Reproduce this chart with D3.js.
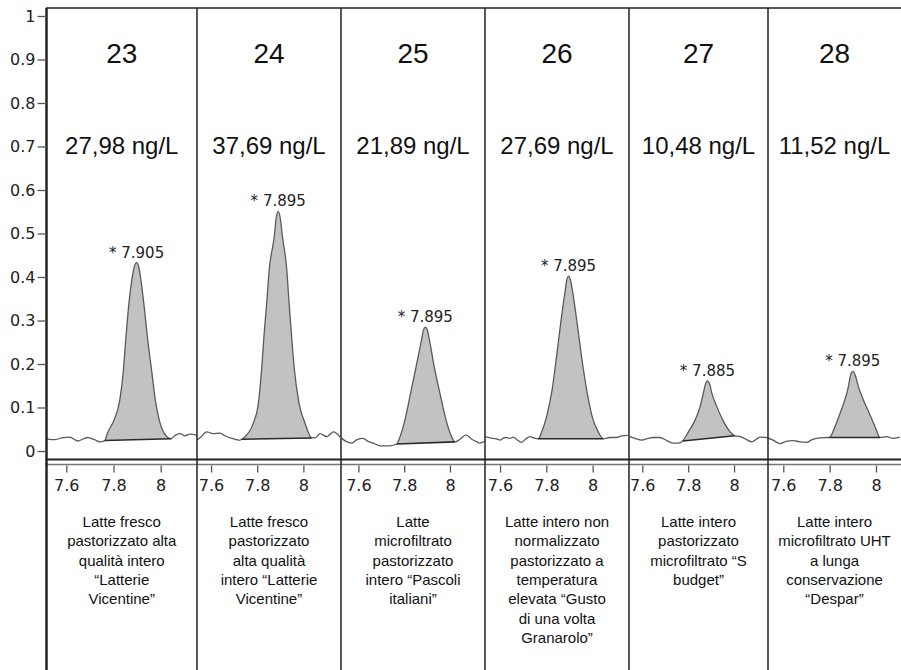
<!DOCTYPE html>
<html>
<head>
<meta charset="utf-8">
<script src="https://cdn.jsdelivr.net/npm/d3@7"></script>
<style>
  html, body { margin: 0; padding: 0; background: #fff; }
  svg { display: block; }
</style>
</head>
<body>
<svg id="chart" width="901" height="670"></svg>
<script>
// ---------------- DATA ----------------
const sampleIds = ["23", "24", "25", "26", "27", "28"];
const concentrations = ["27,98 ng/L", "37,69 ng/L", "21,89 ng/L", "27,69 ng/L", "10,48 ng/L", "11,52 ng/L"];
const peakLabels = ["7.905", "7.895", "7.895", "7.895", "7.885", "7.895"];
const descriptions = [
  ["Latte fresco", "pastorizzato alta", "qualità intero", "“Latterie", "Vicentine”"],
  ["Latte fresco", "pastorizzato", "alta qualità", "intero “Latterie", "Vicentine”"],
  ["Latte", "microfiltrato", "pastorizzato", "intero “Pascoli", "italiani”"],
  ["Latte intero non", "normalizzato", "pastorizzato a", "temperatura", "elevata “Gusto", "di una volta", "Granarolo”"],
  ["Latte intero", "pastorizzato", "microfiltrato “S", "budget”"],
  ["Latte intero", "microfiltrato UHT", "a lunga", "conservazione", "“Despar”"]
];
const yTicks = [0, 0.1, 0.2, 0.3, 0.4, 0.5, 0.6, 0.7, 0.8, 0.9, 1];
const xTicks = [7.6, 7.8, 8];
const xDomainMin = [7.516, 7.539, 7.524, 7.535, 7.542, 7.534];
const xDomainMax = [8.154, 8.163, 8.153, 8.157, 8.148, 8.108];
const peakStart = [7.763, 7.733, 7.767, 7.765, 7.776, 7.799];
const peakEnd   = [8.044, 8.036, 8.022, 8.046, 8.002, 8.017];

// retention time (min) and signal for each chromatogram
const rt23  = [7.516, 7.550, 7.580, 7.614, 7.648, 7.690, 7.720, 7.741, 7.763, 7.774, 7.802, 7.827, 7.841, 7.852, 7.864, 7.878, 7.888, 7.898, 7.907, 7.916, 7.930, 7.945, 7.963, 7.977, 7.994, 8.015, 8.044, 8.061, 8.082, 8.103, 8.125, 8.154];
const sig23 = [0.028, 0.026, 0.030, 0.032, 0.023, 0.031, 0.026, 0.021, 0.024, 0.041, 0.071, 0.118, 0.179, 0.256, 0.332, 0.394, 0.423, 0.433, 0.423, 0.394, 0.332, 0.256, 0.179, 0.118, 0.071, 0.041, 0.028, 0.036, 0.040, 0.035, 0.039, 0.036];

const rt24  = [7.539, 7.556, 7.581, 7.608, 7.639, 7.660, 7.682, 7.704, 7.725, 7.733, 7.747, 7.783, 7.805, 7.819, 7.829, 7.841, 7.852, 7.874, 7.882, 7.891, 7.900, 7.909, 7.928, 7.938, 7.949, 7.961, 7.981, 8.007, 8.036, 8.050, 8.072, 8.101, 8.130, 8.159];
const sig24 = [0.025, 0.032, 0.044, 0.040, 0.041, 0.035, 0.030, 0.027, 0.025, 0.027, 0.033, 0.064, 0.110, 0.187, 0.263, 0.340, 0.417, 0.494, 0.535, 0.551, 0.535, 0.494, 0.417, 0.340, 0.263, 0.187, 0.110, 0.064, 0.030, 0.030, 0.040, 0.033, 0.044, 0.032];

const rt25  = [7.527, 7.546, 7.571, 7.594, 7.621, 7.642, 7.665, 7.694, 7.738, 7.767, 7.782, 7.803, 7.828, 7.852, 7.876, 7.884, 7.892, 7.901, 7.910, 7.931, 7.956, 7.983, 8.007, 8.022, 8.044, 8.070, 8.095, 8.114, 8.131, 8.153];
const sig25 = [0.029, 0.022, 0.018, 0.026, 0.029, 0.022, 0.018, 0.012, 0.012, 0.016, 0.033, 0.071, 0.133, 0.194, 0.256, 0.278, 0.285, 0.278, 0.256, 0.194, 0.133, 0.071, 0.033, 0.021, 0.027, 0.037, 0.027, 0.022, 0.018, 0.023];

const rt26  = [7.535, 7.557, 7.585, 7.600, 7.621, 7.643, 7.657, 7.673, 7.693, 7.712, 7.729, 7.746, 7.765, 7.780, 7.801, 7.825, 7.844, 7.862, 7.882, 7.889, 7.896, 7.904, 7.912, 7.933, 7.952, 7.974, 7.998, 8.024, 8.046, 8.075, 8.103, 8.126, 8.152];
const sig26 = [0.033, 0.030, 0.028, 0.025, 0.031, 0.029, 0.032, 0.026, 0.020, 0.028, 0.033, 0.030, 0.028, 0.044, 0.079, 0.141, 0.217, 0.294, 0.371, 0.395, 0.402, 0.393, 0.371, 0.294, 0.217, 0.141, 0.079, 0.044, 0.028, 0.031, 0.031, 0.035, 0.036];

const rt27  = [7.546, 7.568, 7.597, 7.625, 7.647, 7.677, 7.707, 7.735, 7.757, 7.776, 7.801, 7.830, 7.852, 7.866, 7.875, 7.884, 7.894, 7.903, 7.925, 7.951, 7.983, 8.002, 8.027, 8.049, 8.078, 8.097, 8.114, 8.149];
const sig27 = [0.033, 0.029, 0.025, 0.029, 0.031, 0.031, 0.024, 0.018, 0.018, 0.023, 0.044, 0.071, 0.102, 0.133, 0.153, 0.161, 0.153, 0.133, 0.102, 0.071, 0.044, 0.035, 0.033, 0.028, 0.021, 0.027, 0.032, 0.030];

const rt28  = [7.534, 7.556, 7.586, 7.612, 7.643, 7.672, 7.701, 7.724, 7.758, 7.787, 7.799, 7.823, 7.845, 7.866, 7.881, 7.890, 7.900, 7.912, 7.924, 7.945, 7.971, 7.996, 8.017, 8.046, 8.073, 8.103];
const sig28 = [0.030, 0.025, 0.017, 0.022, 0.024, 0.021, 0.020, 0.026, 0.030, 0.031, 0.031, 0.056, 0.087, 0.118, 0.148, 0.174, 0.183, 0.172, 0.148, 0.118, 0.087, 0.056, 0.031, 0.033, 0.029, 0.032];

const retentionTimes = [rt23, rt24, rt25, rt26, rt27, rt28];
const signals = [sig23, sig24, sig25, sig26, sig27, sig28];

// ---------------- LAYOUT ----------------
const W = 901, H = 670;
const edges = [46.5, 197, 341, 485, 629, 768, 901];
const plotTop = 8, plotBottom = 459.5;

const svg = d3.select("#chart");
const y = d3.scaleLinear().domain([0, 1]).range([451, 16]);

const defs = svg.append("defs");

sampleIds.forEach((id, i) => {
  const x0 = edges[i], x1 = edges[i + 1];
  const x = d3.scaleLinear().domain([xDomainMin[i], xDomainMax[i]]).range([x0, x1]);
  const clipId = "clip" + i;
  defs.append("clipPath").attr("id", clipId)
    .append("rect").attr("x", x0).attr("y", plotTop).attr("width", x1 - x0).attr("height", plotBottom - plotTop);
  const clipAx = "clipax" + i;
  defs.append("clipPath").attr("id", clipAx)
    .append("rect").attr("x", x0).attr("y", plotBottom).attr("width", x1 - x0).attr("height", 45);

  const pts = retentionTimes[i].map((t, k) => ({ t, v: signals[i][k] }));
  const s = pts.find(p => p.t === peakStart[i]);
  const e = pts.find(p => p.t === peakEnd[i]);
  const base = t => s.v + (e.v - s.v) * (t - s.t) / (e.t - s.t);
  const peakPts = pts.filter(p => p.t >= s.t && p.t <= e.t);

  const g = svg.append("g").attr("clip-path", `url(#${clipId})`);

  g.append("path").datum(peakPts)
    .attr("d", d3.area().curve(d3.curveMonotoneX)
      .x(p => x(p.t)).y0(p => y(base(p.t))).y1(p => y(p.v)))
    .attr("fill", "#c2c2c2");

  g.append("path").datum(pts)
    .attr("d", d3.line().curve(d3.curveMonotoneX).x(p => x(p.t)).y(p => y(p.v)))
    .attr("fill", "none").attr("stroke", "#5a5a5a").attr("stroke-width", 1.3);

  g.append("line")
    .attr("x1", x(s.t)).attr("y1", y(s.v)).attr("x2", x(e.t)).attr("y2", y(e.v))
    .attr("stroke", "#2a2a2a").attr("stroke-width", 1.6);

  // peak label
  const apex = peakPts.reduce((a, b) => (b.v > a.v ? b : a));
  svg.append("text")
    .attr("x", x(apex.t)).attr("y", y(apex.v) - 5)
    .attr("text-anchor", "middle")
    .attr("font-family", "DejaVu Sans, Verdana, sans-serif")
    .attr("font-size", 15).attr("fill", "#222")
    .text("* " + peakLabels[i]);

  // header
  const cx = (x0 + x1) / 2;
  svg.append("text").attr("x", cx).attr("y", 63).attr("text-anchor", "middle")
    .attr("font-family", "Liberation Sans, Arial, sans-serif").attr("font-size", 28).attr("fill", "#111")
    .text(id);
  svg.append("text").attr("x", cx).attr("y", 154).attr("text-anchor", "middle")
    .attr("font-family", "Liberation Sans, Arial, sans-serif").attr("font-size", 24).attr("fill", "#111")
    .text(concentrations[i]);

  // x axis (outer group clips in page coordinates, inner group is translated)
  const axOuter = svg.append("g").attr("clip-path", `url(#${clipAx})`);
  const ax = axOuter.append("g").attr("transform", "translate(0,465.5)")
    .call(d3.axisBottom(x).tickValues(xTicks).tickSize(7).tickPadding(7)
      .tickFormat(d => d === 8 ? "8" : d3.format(".1f")(d)));
  ax.select(".domain").remove();
  ax.selectAll("line").attr("stroke", "#555").attr("stroke-width", 1.3);
  ax.selectAll("text").attr("font-family", "DejaVu Sans, Verdana, sans-serif").attr("font-size", 16).attr("fill", "#222");

  // description
  const desc = svg.append("text").attr("text-anchor", "middle")
    .attr("font-family", "Liberation Sans, Arial, sans-serif").attr("font-size", 15).attr("fill", "#111");
  descriptions[i].forEach((line, k) => {
    desc.append("tspan").attr("x", cx).attr("y", 527 + k * 19.3).text(line);
  });
});

// frame lines
svg.append("line").attr("x1", 46).attr("x2", W).attr("y1", plotTop).attr("y2", plotTop)
  .attr("stroke", "#222").attr("stroke-width", 1.5);
svg.append("line").attr("x1", 46).attr("x2", W).attr("y1", 459.5).attr("y2", 459.5)
  .attr("stroke", "#222").attr("stroke-width", 1.8);
svg.append("line").attr("x1", 46).attr("x2", W).attr("y1", 464.5).attr("y2", 464.5)
  .attr("stroke", "#777").attr("stroke-width", 1.5);
edges.slice(1, -1).forEach(ex => {
  svg.append("line").attr("x1", ex).attr("x2", ex).attr("y1", plotTop).attr("y2", H)
    .attr("stroke", "#222").attr("stroke-width", 1.5);
});
svg.append("line").attr("x1", 46.5).attr("x2", 46.5).attr("y1", plotTop).attr("y2", H)
  .attr("stroke", "#222").attr("stroke-width", 2.5);

// y axis
const yAx = svg.append("g").attr("transform", "translate(46.5,0)")
  .call(d3.axisLeft(y).tickValues(yTicks).tickSize(9).tickPadding(2).tickFormat(d => d3.format("~g")(d)));
yAx.select(".domain").remove();
yAx.selectAll("line").attr("stroke", "#555").attr("stroke-width", 1.3);
yAx.selectAll("text").attr("font-family", "DejaVu Sans, Verdana, sans-serif").attr("font-size", 16).attr("fill", "#222");
</script>
</body>
</html>
